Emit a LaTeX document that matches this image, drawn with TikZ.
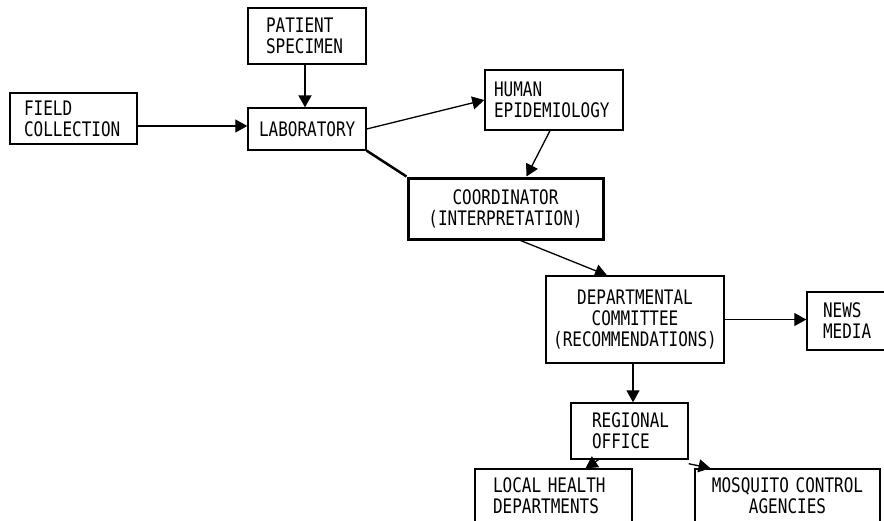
\documentclass[tikz,border=0pt]{standalone}
\usepackage{fontspec}
\usepackage{tikz}
\usetikzlibrary{arrows.meta}
\newfontfamily\typerfont[FakeStretch=0.8]{DejaVu Sans Mono}

\tikzset{
	unit/.style = {draw, line width=1.4pt, font=\typerfont\fontsize{20}{21}\selectfont, inner ysep=0pt},
	flow/.style = {line width=1.3pt, -{Triangle[length=12pt, width=13pt]}}
}

\begin{document}
\begin{tikzpicture}[x=1pt, y=-1pt]
		\useasboundingbox (0, 0) rectangle (884, 520);
		% sources
		\node[unit, align=left, inner xsep=14pt, text width=99pt, minimum height=51pt] (field) at (73.5, 118.5) {FIELD\\COLLECTION};
		\node[unit, align=left, inner xsep=18pt, text width=82pt, minimum height=56pt] (patient) at (307, 36) {PATIENT\\SPECIMEN};
		\node[unit, align=left, inner xsep=11pt, text width=96pt, minimum height=42pt] (lab) at (307, 129) {LABORATORY};
		\node[unit, align=left, inner xsep=9pt, text width=120pt, minimum height=60pt] (human) at (554, 100) {HUMAN\\EPIDEMIOLOGY};
		% coordinator
		\node[unit, line width=3pt, align=center, text width=189pt, inner xsep=3pt, minimum height=61pt] (coord) at (505.5, 208.5) {COORDINATOR\\(INTERPRETATION)};
		\node[unit, align=center, text width=172pt, inner xsep=3pt, minimum height=87pt] (dept) at (635, 319.5) {DEPARTMENTAL\\COMMITTEE\\(RECOMMENDATIONS)};
		\node[unit, align=left, inner xsep=16pt, text width=50pt, minimum height=58pt] (news) at (848, 321) {NEWS\\MEDIA};
		% lower boxes
		\node[unit, align=left, inner xsep=21pt, text width=75pt, minimum height=56pt] (regional) at (629.5, 431) {REGIONAL\\OFFICE};
		\node[unit, align=left, inner xsep=18pt, text width=121pt, minimum height=54pt] (local) at (553.5, 496) {LOCAL HEALTH\\DEPARTMENTS};
		\node[unit, align=center, inner xsep=3pt, text width=179pt, minimum height=54pt] (mosquito) at (787.5, 496) {MOSQUITO CONTROL\\AGENCIES};
		% connections
		\draw[flow] (field.east |- 0, 126) -- (lab.west |- 0, 126);
		\draw[flow, line width=2pt] ([xshift=-2pt]patient.south) -- ([xshift=-2pt]lab.north);
		\draw[flow] (lab.east) -- (human.west);
		\draw[line width=2.5pt] (lab.south east) -- (coord.north west);
		\draw[flow] ([xshift=-4pt]human.south) -- ([xshift=21pt]coord.north);
		\draw[flow] ([xshift=15pt]coord.south) -- ([xshift=-28pt]dept.north);
		\draw[flow] (dept.east) -- (dept.east -| news.west);
		\draw[flow] ([xshift=-2pt]dept.south) -- ([xshift=-2pt]dept.south |- regional.north);
		\draw[flow] ([xshift=-31pt]regional.south) -- ([xshift=32pt]local.north);
		\draw[flow] ([yshift=-4pt]regional.south east) -- ([xshift=-77pt]mosquito.north);
	\end{tikzpicture}
\end{document}
